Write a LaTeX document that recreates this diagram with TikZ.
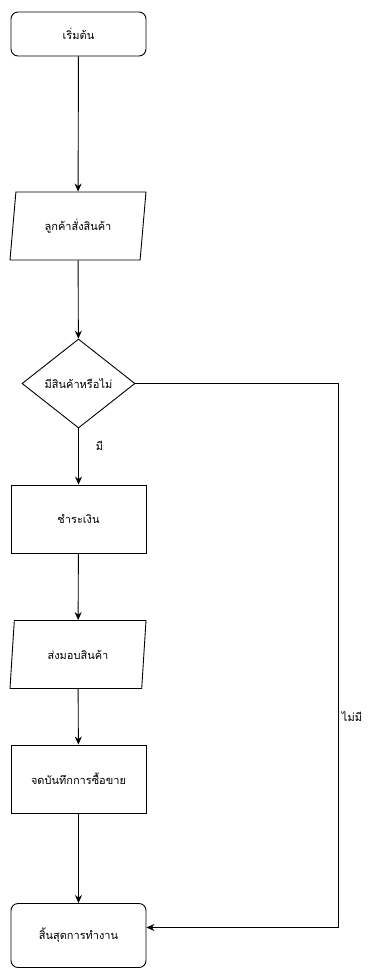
\documentclass[tikz,border=0pt]{standalone}
\usepackage{fontspec}
\newfontfamily\thaifont[Script=Thai]{Loma}
\usetikzlibrary{arrows.meta}
\usetikzlibrary{calc, positioning, shapes, shapes.geometric}
\tikzset{
    flow/.style={draw, line width=0.9pt, -{Stealth[length=8pt, width=7pt]}},
    wire/.style={draw, line width=0.9pt},
    termbox/.style={draw, line width=0.9pt, rectangle, rounded corners=7pt,
        minimum width=135pt, minimum height=#1, inner sep=2pt},
    termbox/.default={44pt},
    procbox/.style={draw, line width=0.9pt, rectangle,
        minimum width=135pt, minimum height=68pt, inner sep=2pt},
    iobox/.style={draw, line width=0.9pt, trapezium, trapezium left angle=72,
        trapezium right angle=108, trapezium stretches body=true,
        minimum width=136pt, minimum height=68pt, inner sep=2pt},
    askbox/.style={draw, line width=0.9pt, diamond, aspect=1.27,
        minimum width=113pt, minimum height=89pt, inner sep=0pt},
    lbl/.style={inner sep=1pt}
}

\begin{document}
\begin{tikzpicture}[x=1pt, y=-1pt, font=\thaifont\fontsize{11}{13}\selectfont]
    \def \mx {78.5}
    \useasboundingbox (0,0) rectangle (373,969);
    % shapes of the flow
    \node[termbox] (start) at (\mx, 34) {เริ่มต้น};
    \node[iobox] (order) at (78, 226) {ลูกค้าสั่งสินค้า};
    \node[askbox] (check) at (\mx, 383.5) {มีสินค้าหรือไม่};
    \node[procbox] (pay) at (\mx, 519) {ชำระเงิน};
    \node[iobox] (deliver) at (78, 654.5) {ส่งมอบสินค้า};
    \node[procbox] (record) at (\mx, 779) {จดบันทึกการซื้อขาย};
    \node[termbox=64pt] (finish) at (\mx, 935.5) {สิ้นสุดการทำงาน};
    \coordinate (turn) at (338, 383.5);
    % connectors
    \draw[flow] (start) -- (order);
    \draw[flow] (order) -- (check);
    \draw[flow] (check) -- (pay);
    \draw[flow] (pay) -- (deliver);
    \draw[flow] (deliver) -- (record);
    \draw[flow] (record) -- (finish);
    \draw[flow] (check.east) -- (turn) |- ([yshift=8pt]finish.east);
    \node[lbl] (yes) at (99.5, 446) {มี};
    \node[lbl] (no) at (352, 717) {ไม่มี};
\end{tikzpicture}
\end{document}
